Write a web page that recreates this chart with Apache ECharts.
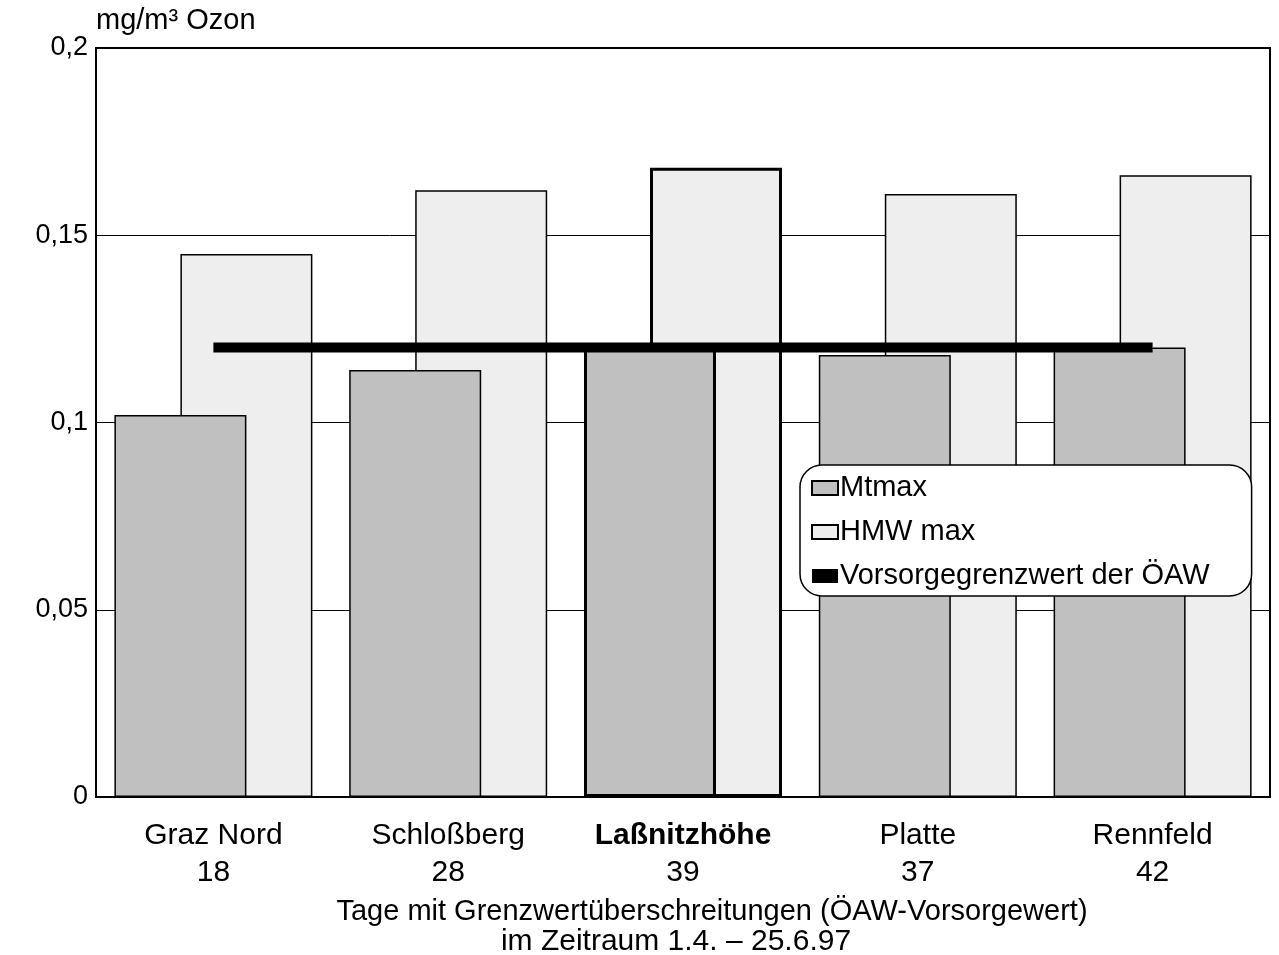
<!DOCTYPE html>
<html>
<head>
<meta charset="utf-8">
<script src="https://cdn.jsdelivr.net/npm/echarts@6/dist/echarts.min.js"></script>
<style>
  html, body { margin: 0; padding: 0; background: #fff; }
  #chart { width: 1279px; height: 955px; }
</style>
</head>
<body>
<div id="chart"></div>
<script>
// Stationen und Tage mit Überschreitung
const stations = ['Graz Nord', 'Schloßberg', 'Laßnitzhöhe', 'Platte', 'Rennfeld']
const days = [18, 28, 39, 37, 42]
// Werte in mg/m³
const mtmax = [0.102, 0.114, 0.12, 0.118, 0.12]
const hmwMax = [0.145, 0.162, 0.168, 0.161, 0.166]
const limit = [0.12, 0.12, 0.12, 0.12, 0.12]
const yTicks = [0, 0.05, 0.1, 0.15, 0.2]

const FONT = '"Liberation Sans", Arial, sans-serif'
const HIGHLIGHT = 2 // Laßnitzhöhe

const myChart = echarts.init(document.getElementById('chart'))

function barData (values) {
  return values.map((v, i) => {
    if (i === HIGHLIGHT) {
      return { value: v, itemStyle: { borderWidth: 3 } }
    }
    return v
  })
}

const option = {
  animation: false,
  backgroundColor: '#fff',
  textStyle: { fontFamily: FONT, color: '#000' },
  grid: {
    left: 96,
    right: 9,
    top: 48,
    bottom: 158,
    show: true,
    borderColor: '#000',
    borderWidth: 2,
    backgroundColor: 'transparent'
  },
  legend: {
    orient: 'vertical',
    left: 800,
    top: 465,
    padding: [8, 42, 5, 11],
    backgroundColor: '#fff',
    borderColor: '#000',
    borderWidth: 1.5,
    borderRadius: 22,
    itemWidth: 26,
    itemHeight: 14,
    itemGap: 14,
    selectedMode: false,
    textStyle: { fontFamily: FONT, fontSize: 29, color: '#000', lineHeight: 30, padding: [0, 0, 0, -3] },
    data: [
      { name: 'Mtmax', icon: 'rect' },
      { name: 'HMW max', icon: 'rect' },
      { name: 'Vorsorgegrenzwert der ÖAW', icon: 'rect', itemStyle: { color: '#000', borderWidth: 0 } }
    ],
    z: 10
  },
  xAxis: {
    type: 'category',
    data: stations,
    axisLine: { lineStyle: { color: '#000', width: 2 } },
    axisTick: { show: false },
    axisLabel: {
      interval: 0,
      margin: 20,
      fontFamily: FONT,
      fontSize: 31,
      color: '#000',
      lineHeight: 37,
      formatter: (value, index) => {
        const style = index === HIGHLIGHT ? 'b' : 'n'
        return `{${style}|${value}}\n{n|${days[index]}}`
      },
      rich: {
        n: { fontFamily: FONT, fontSize: 30, lineHeight: 37, color: '#000' },
        b: { fontFamily: FONT, fontSize: 30, lineHeight: 37, color: '#000', fontWeight: 'bold' }
      }
    }
  },
  yAxis: {
    type: 'value',
    min: yTicks[0],
    max: yTicks[yTicks.length - 1],
    interval: 0.05,
    axisLine: { show: true, lineStyle: { color: '#000', width: 2 } },
    axisTick: { show: false },
    splitLine: { lineStyle: { color: '#000', width: 1 } },
    axisLabel: {
      margin: 8,
      fontFamily: FONT,
      fontSize: 27,
      color: '#000',
      formatter: (v) => String(+v.toFixed(2)).replace('.', ',')
    }
  },
  series: [
    {
      name: 'Mtmax',
      type: 'bar',
      data: barData(mtmax),
      barWidth: 132,
      barGap: '-50%',
      z: 3,
      itemStyle: { color: '#c0c0c0', borderColor: '#000', borderWidth: 1.5 }
    },
    {
      name: 'HMW max',
      type: 'bar',
      data: barData(hmwMax),
      barWidth: 132,
      barGap: '-50%',
      z: 2,
      itemStyle: { color: '#eeeeee', borderColor: '#000', borderWidth: 1.5 }
    },
    {
      name: 'Vorsorgegrenzwert der ÖAW',
      type: 'line',
      data: limit,
      symbol: 'none',
      z: 5,
      color: '#000',
      lineStyle: { color: '#000', width: 10, cap: 'butt' }
    }
  ],
  graphic: [
    {
      type: 'text',
      left: 96,
      top: 6,
      style: { text: 'mg/m³ Ozon', font: `29px ${FONT}`, fill: '#000' }
    },
    {
      type: 'text',
      x: 712,
      y: 912,
      style: {
        text: 'Tage mit Grenzwertüberschreitungen (ÖAW-Vorsorgewert)',
        font: `29px ${FONT}`,
        fill: '#000',
        align: 'center',
        verticalAlign: 'middle'
      }
    },
    {
      type: 'text',
      x: 676,
      y: 942,
      style: {
        text: 'im Zeitraum 1.4. – 25.6.97',
        font: `30px ${FONT}`,
        fill: '#000',
        align: 'center',
        verticalAlign: 'middle'
      }
    }
  ]
}

myChart.setOption(option)
</script>
</body>
</html>
